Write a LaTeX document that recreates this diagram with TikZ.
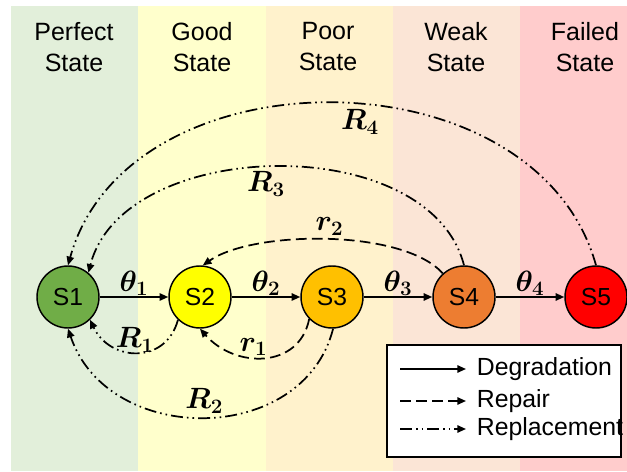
\RequirePackage{fix-cm}
\documentclass[tikz,border=0pt]{standalone}
\usepackage{amsmath,bm}
\usepackage{fontspec}
\newfontfamily\arial{Liberation Sans}
\usepackage{tikz}
\usetikzlibrary{arrows.meta,positioning,calc}
\usepackage{xcolor}

\definecolor{bandgreen}{HTML}{E2EFDA}
\definecolor{bandyellow}{HTML}{FFFFCC}
\definecolor{bandpeach}{HTML}{FFF2CC}
\definecolor{bandsalmon}{HTML}{FBE5D6}
\definecolor{bandpink}{HTML}{FFCCCC}
\definecolor{stgreen}{HTML}{70AD47}
\definecolor{styellow}{HTML}{FFFF00}
\definecolor{stamber}{HTML}{FFC000}
\definecolor{storange}{HTML}{ED7D31}
\definecolor{stred}{HTML}{FF0000}

\tikzset{
  state/.style={circle, draw, line width=1.1pt, minimum size=46.5pt, inner sep=0pt,
    font=\arial\fontsize{18.5}{22}\selectfont},
  degr/.style={line width=1.3pt, -{Triangle[length=6.5pt,width=5.5pt]}},
  repair/.style={degr, dash pattern=on 8pt off 4pt},
  replace/.style={degr, dash pattern=on 9pt off 3pt on 1.2pt off 3pt on 1.2pt off 3pt},
  lbl/.style={font=\fontsize{22}{26}\selectfont, inner sep=1.5pt},
  bandtitle/.style={align=center, font=\arial\fontsize{18.75}{23.25}\selectfont},
  legtext/.style={anchor=west, inner xsep=8pt, inner ysep=0pt,
    font=\arial\fontsize{18.6}{22}\selectfont},
}

\begin{document}
\begin{tikzpicture}[x=0.75pt, y=0.75pt]
    \useasboundingbox (0,0) rectangle (627,471);

    % Condition bands
    \fill[bandgreen] (11,0) rectangle (138,465);
    \fill[bandyellow] (138,0) rectangle (266,465);
    \fill[bandpeach] (266,0) rectangle (393,465);
    \fill[bandsalmon] (393,0) rectangle (520,465);
    \fill[bandpink] (520,0) rectangle (627,465);

    % Band titles
    \node[bandtitle] (perfect) at (74,424) {Perfect\\State};
    \node[bandtitle] (good) at (202,424) {Good\\State};
    \node[bandtitle] (poor) at (328,424) {Poor\\State};
    \node[bandtitle] (weak) at (456,424) {Weak\\State};
    \node[bandtitle] (failed) at (585,424) {Failed\\State};

    % States
    \node[state, fill=stgreen] (s1) at (68,174) {S1};
    \node[state, fill=styellow] (s2) at (200,174) {S2};
    \node[state, fill=stamber] (s3) at (332,174) {S3};
    \node[state, fill=storange] (s4) at (464,174) {S4};
    \node[state, fill=stred] (s5) at (596,174) {S5};

    % Degradation
    \draw[degr] (s1) -- node[lbl, above=-1pt] {$\bm{\theta_1}$} (s2);
    \draw[degr] (s2) -- node[lbl, above=-1pt] {$\bm{\theta_2}$} (s3);
    \draw[degr] (s3) -- node[lbl, above=-1pt] {$\bm{\theta_3}$} (s4);
    \draw[degr] (s4) -- node[lbl, above=-1pt] {$\bm{\theta_4}$} (s5);

    % Repair
    \draw[repair] (s4.132) .. controls +(-40,45) and +(50,35) .. (s2.85)
        node[lbl, pos=0.49, above=1pt] {$\bm{r_2}$};
    \draw[repair] (s3.224) .. controls +(-10,-50) and +(35,-40) .. (s2.south)
        node[lbl, pos=0.58, above=-1pt] {$\bm{r_1}$};

    % Replacement
    \draw[replace] (s2.226) .. controls +(-12,-45) and +(20,-42) .. (s1.-46)
        node[lbl, pos=0.52, above=-2pt] {$\bm{R_1}$};
    \draw[replace] (s3.-88) .. controls +(-30,-118) and +(40,-118) .. (s1.south)
        node[lbl, pos=0.5, above=1pt] {$\bm{R_2}$};
    \draw[replace] (s4.north) .. controls +(-35,136) and +(35,136) .. (s1.50)
        node[lbl, pos=0.52, below=1pt] {$\bm{R_3}$};
    \draw[replace] (s5.north) .. controls +(-60,216) and +(60,216) .. (s1.north)
        node[lbl, pos=0.46, below=2pt] {$\bm{R_4}$};

    % Legend
    \draw[line width=1.1pt, fill=white] (387,14) rectangle (621,126);
    \node[legtext] (ldeg) at (466,102) {Degradation};
    \node[legtext] (lrep) at (466,70) {Repair};
    \node[legtext] (lrpl) at (466,42) {Replacement};
    \coordinate (ldeg0) at (400,102);
    \coordinate (lrep0) at (400,70);
    \coordinate (lrpl0) at (400,42);
    \draw[degr] (ldeg0) -- (ldeg.west);
    \draw[repair] (lrep0) -- (lrep.west);
    \draw[replace] (lrpl0) -- (lrpl.west);
\end{tikzpicture}
\end{document}
